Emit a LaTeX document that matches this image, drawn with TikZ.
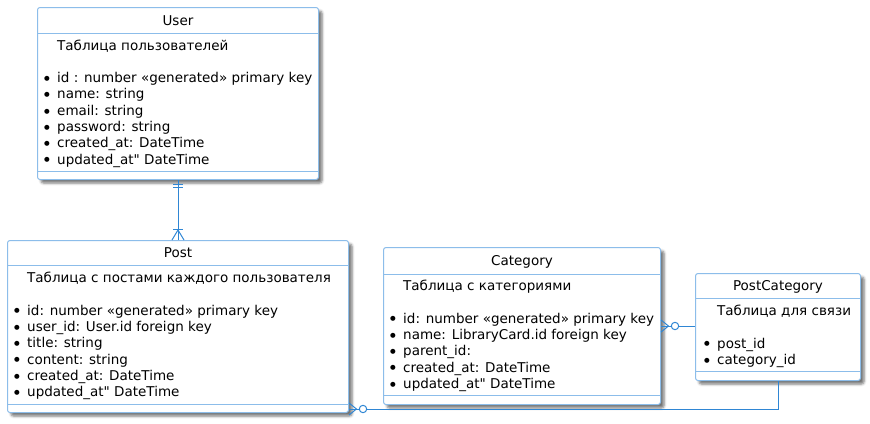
\documentclass[tikz,border=0pt]{standalone}
\usepackage{fontspec}
\setmainfont{DejaVu Sans}[Ligatures=TeXOff]
\usetikzlibrary{shadows.blur,calc}
\definecolor{entborder}{HTML}{8CBDEA}
\definecolor{connblue}{HTML}{2F86D4}
\newcommand\bul{\makebox[15pt][l]{\hspace*{2pt}\raisebox{2.2pt}{\fontsize{6.5}{6.5}\selectfont ●}}}
\newcommand\ind{\hspace*{15pt}}
\newcommand\qt{\symbol{34}}
\begin{document}
\begin{tikzpicture}[x=1pt,y=-1pt,
  ent/.style={draw=entborder, line width=1pt, fill=white, rounded corners=2.5pt,
    anchor=north west, inner sep=0pt,
    blur shadow={shadow xshift=3.5pt, shadow yshift=-3.5pt, shadow blur radius=2.5pt, shadow opacity=55}},
  sep/.style={draw=entborder, line width=1pt},
  etitle/.style={anchor=base, inner sep=0pt, font=\fontsize{13.5}{16.3}\selectfont},
  row/.style={anchor=base west, inner sep=0pt, font=\fontsize{13.5}{16.3}\selectfont},
  conn/.style={draw=connblue, line width=1pt},
]
\useasboundingbox (0,0) rectangle (870,423);

% entities
\node[ent, minimum width=281pt, minimum height=172pt] (user) at (37,7) {};
\node[ent, minimum width=341pt, minimum height=172pt] (post) at (7,240) {};
\node[ent, minimum width=277pt, minimum height=157pt] (cat) at (383,247) {};
\node[ent, minimum width=165pt, minimum height=107pt] (pc) at (695,273) {};

% separators
\draw[sep] (user.west |- 0,33) -- (user.east |- 0,33);
\draw[sep] (user.west |- 0,171) -- (user.east |- 0,171);
\draw[sep] (post.west |- 0,265) -- (post.east |- 0,265);
\draw[sep] (post.west |- 0,404) -- (post.east |- 0,404);
\draw[sep] (cat.west |- 0,274) -- (cat.east |- 0,274);
\draw[sep] (cat.west |- 0,395) -- (cat.east |- 0,395);
\draw[sep] (pc.west |- 0,298) -- (pc.east |- 0,298);
\draw[sep] (pc.west |- 0,371) -- (pc.east |- 0,371);

% titles
\node[etitle] (usertitle) at (user.north |- 0,25) {User};
\node[etitle] (posttitle) at (post.north |- 0,257.5) {Post};
\node[etitle] (cattitle) at (cat.north |- 0,265.5) {Category};
\node[etitle] (pctitle) at (pc.north |- 0,290.5) {PostCategory};

% rows
\foreach \n/\t in {0/{\ind Таблица пользователей},
  2/{\bul id : number «generated» primary key},
  3/{\bul name: string},
  4/{\bul email: string},
  5/{\bul password: string},
  6/{\bul created\_at: DateTime},
  7/{\bul updated\_at\qt{} DateTime}}
  \node[row] (urow\n) at ({42},{50+16.3*\n}) {\t};

\foreach \n/\t in {0/{\ind Таблица с постами каждого пользователя},
  2/{\bul id: number «generated» primary key},
  3/{\bul user\_id: User.id foreign key},
  4/{\bul title: string},
  5/{\bul content: string},
  6/{\bul created\_at: DateTime},
  7/{\bul updated\_at\qt{} DateTime}}
  \node[row] (prow\n) at ({12},{282.5+16.3*\n}) {\t};

\foreach \n/\t in {0/{\ind Таблица с категориями},
  2/{\bul id: number «generated» primary key},
  3/{\bul name: LibraryCard.id foreign key},
  4/{\bul parent\_id:},
  5/{\bul created\_at: DateTime},
  6/{\bul updated\_at\qt{} DateTime}}
  \node[row] (crow\n) at ({388},{290.5+16.3*\n}) {\t};

\foreach \n/\t in {0/{\ind Таблица для связи},
  2/{\bul post\_id},
  3/{\bul category\_id}}
  \node[row] (pcrow\n) at ({702},{315.5+16.3*\n}) {\t};

% User -- Post  (one and only one  /  one or many)
\draw[conn] (user.south) -- (post.north);
\draw[conn] ($(user.south)+(-4.7,4.5)$) -- ++(9.4,0);
\draw[conn] ($(user.south)+(-4.7,7.2)$) -- ++(9.4,0);
\draw[conn] ($(post.north)+(-4.7,-11)$) -- ++(9.4,0);
\draw[conn] ($(post.north)+(-6,0)$) -- ($(post.north)+(0,-10)$) -- ($(post.north)+(6,0)$);

% Post -- PostCategory (zero or many)
\coordinate (pe) at (post.east |- 0,409);
\draw[conn] ($(pe)+(0,-6)$) -- ($(pe)+(7.5,0)$) -- ($(pe)+(0,6)$);
\draw[conn] (pe) -- ($(pe)+(10.3,0)$);
\draw[conn, fill=white] ($(pe)+(14,0)$) circle (3.7pt);
\draw[conn] ($(pe)+(17.7,0)$) -| (pc.south);

% Category -- PostCategory (zero or many)
\coordinate (ce) at (cat.east);
\draw[conn] ($(ce)+(0,-6)$) -- ($(ce)+(7.5,0)$) -- ($(ce)+(0,6)$);
\draw[conn] (ce) -- ($(ce)+(10.3,0)$);
\draw[conn, fill=white] ($(ce)+(14,0)$) circle (3.7pt);
\draw[conn] ($(ce)+(17.7,0)$) -- (pc.west |- ce);
\end{tikzpicture}
\end{document}
